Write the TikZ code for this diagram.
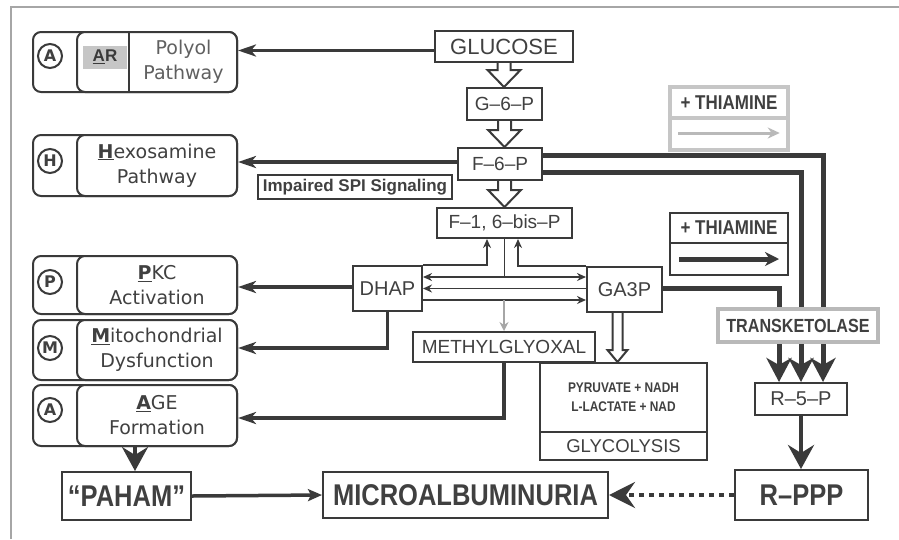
\documentclass[tikz,border=0pt]{standalone}
\usepackage{fontspec}
\setmainfont{Liberation Sans}
\newfontfamily\dv{DejaVu Sans}
\newfontfamily\nar{Liberation Sans}[FakeStretch=0.85]
\usetikzlibrary{arrows.meta,calc}
\definecolor{ink}{HTML}{3A3A3A}
\definecolor{txt}{HTML}{404040}
\tikzset{
 box/.style={draw=ink, line width=2pt, fill=white, inner sep=0pt, text=txt, align=center},
 rbox/.style={box, rounded corners=8pt},
 circ/.style={circle, draw=ink, line width=2pt, minimum size=24pt, inner sep=0pt, text=txt, font=\dv\bfseries\fontsize{16}{16}\selectfont},
 lbl/.style={font=\dv\fontsize{19}{25}\selectfont, text=txt, align=center},
 med/.style={font=\fontsize{19}{22}\selectfont},
 big/.style={font=\nar\bfseries\fontsize{30}{32}\selectfont},
 arr/.style={draw=ink, line width=3.5pt, -{Stealth[length=18pt,width=12pt,inset=5pt]}},
 bigarr/.style={draw=ink, line width=4pt, -{Stealth[length=24pt,width=26pt,inset=8pt]}},
 heavy/.style={draw=ink, line width=5pt, -{Stealth[length=24pt,width=25pt,inset=7pt]}},
 thinarr/.style={draw=ink, line width=1.6pt},
 hol/.style={draw=ink, line width=2pt, fill=white, line join=miter},
 frameline/.style={draw=gray!70, line width=1.5pt},
}
\begin{document}
\begin{tikzpicture}[x=1pt,y=-1pt]
\useasboundingbox (0,0) rectangle (899,539);
\draw[frameline] (11,539) -- (11,7) -- (899,7);

% ---------- left pathway boxes ----------
\node[rbox, minimum width=204, minimum height=60] (polyol) at (135,62) {};
\node[rbox, minimum width=160, minimum height=60] (polyolin) at (157,62) {};
\draw[ink, line width=2pt] ($(polyolin.north west)+(53,0)$) -- ($(polyolin.south west)+(53,0)$);
\node[box, draw=none, fill=gray!45, minimum width=44, minimum height=23, font=\bfseries\fontsize{17}{17}\selectfont, text=ink] (ar) at (105,57) {\underline{A}R};
\node[lbl, text=gray!75!black] (polytxt) at (183.5,62) {Polyol\\Pathway};
\node[circ] (ca1) at (50,56) {A};

\node[rbox, minimum width=204, minimum height=61] (hexo) at (135,165.5) {};
\node[rbox, lbl, minimum width=160, minimum height=61] (hexoin) at (157,165.5) {\underline{\textbf{H}}exosamine\\Pathway};
\node[circ] (ch) at (50,161) {H};

\node[rbox, minimum width=204, minimum height=58] (pkc) at (135,285) {};
\node[rbox, lbl, minimum width=160, minimum height=58] (pkcin) at (157,285) {\underline{\textbf{P}}KC\\Activation};
\node[circ] (cp) at (50,282) {P};

\node[rbox, minimum width=204, minimum height=60] (mito) at (135,350) {};
\node[rbox, lbl, minimum width=160, minimum height=60] (mitoin) at (157,350) {\underline{\textbf{M}}itochondrial\\Dysfunction};
\node[circ] (cm) at (50,348) {M};

\node[rbox, minimum width=204, minimum height=61] (age) at (135,415.5) {};
\node[rbox, lbl, minimum width=160, minimum height=61] (agein) at (157,415.5) {\underline{\textbf{A}}GE\\Formation};
\node[circ] (ca2) at (50,410) {A};

% ---------- central boxes ----------
\node[box, minimum width=138, minimum height=31, font=\fontsize{22}{24}\selectfont] (glucose) at (504,46.5) {GLUCOSE};
\node[box, med, minimum width=75, minimum height=32] (g6p) at (504.5,104) {G–6–P};
\node[box, med, minimum width=84, minimum height=32] (f6p) at (500,164) {F–6–P};
\node[box, med, minimum width=135, minimum height=30] (f16) at (504.5,223) {F–1, 6–bis–P};
\node[box, font=\bfseries\fontsize{17}{19}\selectfont, minimum width=194, minimum height=24] (spi) at (355,187) {Impaired SPI Signaling};
\node[box, font=\fontsize{20}{22}\selectfont, minimum width=69, minimum height=45] (dhap) at (387.5,288.5) {DHAP};
\node[box, font=\fontsize{20}{22}\selectfont, minimum width=75, minimum height=45] (ga3p) at (624.5,289.5) {GA3P};
\node[box, med, minimum width=182, minimum height=30] (methyl) at (504,347) {METHYLGLYOXAL};
\node[box, font=\nar\bfseries\fontsize{14}{19}\selectfont, minimum width=167, minimum height=69] (glyc) at (623.5,397.5) {PYRUVATE + NADH\\L-LACTATE + NAD};
\node[box, font=\fontsize{18.5}{20}\selectfont, minimum width=167, minimum height=28] (glycb) at (623.5,446) {GLYCOLYSIS};

% thiamine legends
\node[box, draw=gray!45, line width=3.5pt, minimum width=118, minimum height=31, font=\nar\bfseries\fontsize{20}{22}\selectfont] (th1) at (729,102.5) {+ THIAMINE};
\node[box, draw=gray!45, line width=3.5pt, minimum width=118, minimum height=32] (th1b) at (729,134) {};
\draw[gray!55, line width=3pt, -{Stealth[length=12pt,width=11pt]}] ($(th1b.west)+(10,-1)$) -- ($(th1b.east)+(-10,-1)$);
\node[box, minimum width=118, minimum height=30, font=\nar\bfseries\fontsize{20}{22}\selectfont] (th2) at (729,228) {+ THIAMINE};
\node[box, minimum width=118, minimum height=32] (th2b) at (729,259) {};
\draw[ink, line width=5pt, -{Stealth[length=14pt,width=14pt]}] ($(th2b.west)+(10,0)$) -- ($(th2b.east)+(-10,0)$);

\node[box, font=\fontsize{20}{22}\selectfont, minimum width=92, minimum height=32] (r5p) at (801,399) {R–5–P};
\node[box, big, minimum width=129, minimum height=48] (paham) at (126.5,496) {“PAHAM”};
\node[box, big, minimum width=285, minimum height=46] (micro) at (465.5,495) {MICROALBUMINURIA};
\node[box, big, minimum width=133, minimum height=50] (rppp) at (801.5,495) {R–PPP};

% ---------- hollow arrows ----------
\coordinate (h1a) at (glucose.south);
\coordinate (h1b) at (h1a |- g6p.north);
\draw[hol] ($(h1a)+(-6.5,0)$) -- ($(h1b)+(-6.5,-17)$) -- ($(h1b)+(-16.5,-17)$) -- (h1b) -- ($(h1b)+(16.5,-17)$) -- ($(h1b)+(6.5,-17)$) -- ($(h1a)+(6.5,0)$);
\coordinate (h2a) at (g6p.south);
\coordinate (h2b) at (h2a |- f6p.north);
\draw[hol] ($(h2a)+(-6.5,0)$) -- ($(h2b)+(-6.5,-17)$) -- ($(h2b)+(-16.5,-17)$) -- (h2b) -- ($(h2b)+(16.5,-17)$) -- ($(h2b)+(6.5,-17)$) -- ($(h2a)+(6.5,0)$);
\coordinate (h3a) at (f6p.south -| g6p.south);
\coordinate (h3b) at (h3a |- f16.north);
\draw[hol] ($(h3a)+(-6.5,0)$) -- ($(h3b)+(-6.5,-17)$) -- ($(h3b)+(-16.5,-17)$) -- (h3b) -- ($(h3b)+(16.5,-17)$) -- ($(h3b)+(6.5,-17)$) -- ($(h3a)+(6.5,0)$);
\coordinate (h4a) at ($(ga3p.south)+(-7,0)$);
\coordinate (h4b) at (h4a |- glyc.north);
\draw[hol] ($(h4a)+(-5,0)$) -- ($(h4b)+(-5,-12)$) -- ($(h4b)+(-10,-12)$) -- (h4b) -- ($(h4b)+(10,-12)$) -- ($(h4b)+(5,-12)$) -- ($(h4a)+(5,0)$);

% ---------- connectors ----------
\coordinate (gw) at ($(glucose.west)+(0,4)$);
\draw[arr] (gw) -- (gw -| polyol.east);
\coordinate (fw) at ($(f6p.west)+(0,-2)$);
\draw[arr] (fw) -- (fw -| hexo.east);
\coordinate (dw) at ($(dhap.west)+(0,-1.5)$);
\draw[arr] (dw) -- (dw -| pkc.east);
\draw[arr] (dhap.south) |- ($(mito.east)+(0,-2)$);
\draw[arr] (methyl.south) |- ($(age.east)+(0,2.5)$);

% DHAP <-> GA3P
\coordinate (l1) at ($(dhap.east)+(0,-11.5)$);
\coordinate (l2) at (dhap.east);
\coordinate (l3) at ($(dhap.east)+(0,11.5)$);
\draw[thinarr, {Stealth[length=9pt,width=8pt]}-{Stealth[length=9pt,width=8pt]}] (l1) -- (l1 -| ga3p.west);
\draw[thinarr, {Stealth[length=9pt,width=8pt]}-] (l2) -- (l2 -| ga3p.west);
\draw[thinarr, -{Stealth[length=9pt,width=8pt]}] (l3) -- (l3 -| ga3p.west);
\draw[thinarr] (f16.south) -- (f16.south |- l1);
\draw[thinarr, -{Stealth[length=9pt,width=8pt]}] (dhap.north east) -| ($(f16.south)+(-17.5,0)$);
\draw[thinarr, -{Stealth[length=9pt,width=8pt]}] (ga3p.north west) -| ($(f16.south)+(13.5,0)$);
\draw[gray!70, line width=1.8pt, -{Stealth[length=9pt,width=9pt]}] (methyl.north |- l3) -- (methyl.north);

% heavy routes to R-5-P
\draw[heavy] ($(f6p.east)+(0,-9)$) -| ($(r5p.north)+(22,0)$);
\draw[heavy] ($(f6p.east)+(0,8)$) -| ($(r5p.north)+(0,0)$);
\draw[heavy] ($(ga3p.east)+(0,-1.5)$) -| ($(r5p.north)+(-22,0)$);
\node[box, draw=gray!55, line width=4.5pt, font=\nar\bfseries\fontsize{19}{21}\selectfont, minimum width=160, minimum height=33] (trans) at (798,325.5) {TRANSKETOLASE};

\draw[bigarr] (r5p.south) -- (r5p.south |- rppp.north);
\draw[bigarr] (age.south) -- (age.south |- paham.north);
\draw[draw=ink, line width=3.5pt, -{Stealth[length=14pt,width=12pt,inset=3pt]}] (paham.east) -- (micro.west);
\draw[draw=ink, line width=4pt, dash pattern=on 5pt off 5pt, -{Stealth[length=26pt,width=26pt,inset=9pt]}] (rppp.west) -- (micro.east);
\end{tikzpicture}
\end{document}
